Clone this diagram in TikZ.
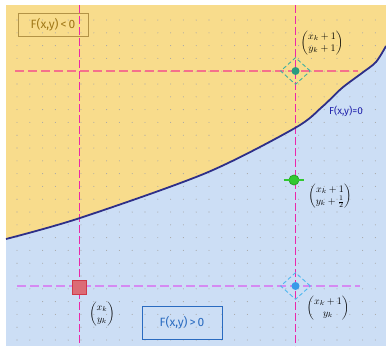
\documentclass[tikz,border=0pt]{standalone}
\usepackage{amsmath}
\usepackage{fontspec}
\setsansfont{Fira Sans}
\usetikzlibrary{shapes.geometric, arrows.meta, positioning, calc}
\definecolor{sand}{HTML}{F8DC8C}
\definecolor{sky}{HTML}{CCDEF5}
\definecolor{dotgray}{HTML}{A8A8A8}
\definecolor{rosedash}{HTML}{F5708C}
\definecolor{lilacdash}{HTML}{D58AF2}
\definecolor{pinkline}{RGB}{235,40,170}
\definecolor{navy}{HTML}{2E2F88}
\definecolor{ochre}{HTML}{A07818}
\definecolor{inkblue}{HTML}{2A6BC0}
\definecolor{pixred}{HTML}{D03A48}
\definecolor{tealdot}{HTML}{2A9A80}
\definecolor{tealdash}{HTML}{40B0A0}
\definecolor{midgreen}{HTML}{30C830}
\definecolor{bluedot}{HTML}{3A9AE8}
\definecolor{bluedash}{HTML}{50B8F0}
\tikzstyle{rowline} = [dash pattern=on 9pt off 4pt, line width=1.2pt]
\tikzstyle{colline} = [dash pattern=on 8pt off 3pt, line width=1.4pt, draw=pinkline]
\tikzstyle{boundary} = [draw=navy, line width=1.8pt]
\tikzstyle{pixel} = [rectangle, minimum size=14pt, inner sep=0pt, draw=pixred,
                     fill=pixred!75, line width=0.8pt]
\tikzstyle{probe} = [diamond, minimum width=30pt, minimum height=27pt, inner sep=0pt,
                     dash pattern=on 4pt off 2.5pt, line width=0.9pt]
\tikzstyle{spot} = [circle, minimum size=8pt, inner sep=0pt]
\tikzstyle{vec} = [font=\normalsize, inner sep=0pt]
\tikzstyle{region} = [rectangle, font=\sffamily\large, inner sep=4pt, line width=0.7pt]

\begin{document}
\begin{tikzpicture}[x=1pt, y=-1pt]
    \useasboundingbox (0,0) rectangle (386,346);

    % Regions
    \fill[sky] (6,5) rectangle (386,346);
    \fill[sand] (6,5) -- plot[smooth] coordinates {(6,239) (80,218) (206,173)
        (295,128) (322,107) (342,88) (362,73) (376,62) (386,46)} -- (386,5) -- cycle;

    % Dot grid
    \foreach \i in {0,...,28}
        \foreach \j in {0,...,25}
            \fill[dotgray] ({17+12.8*\i},{20+12.8*\j}) circle (0.55);

    % Grid lines
    \draw[rowline, draw=rosedash] (15,71) -- (358,71);
    \draw[rowline, draw=lilacdash] (17,286) -- (360,286);
    \draw[colline] (79.5,5) -- (79.5,346);
    \draw[colline] (295.5,5) -- (295.5,346);

    % Boundary
    \draw[boundary] plot[smooth] coordinates {(6,239) (80,218) (206,173)
        (295,128) (322,107) (342,88) (362,73) (376,62) (386,46)};
    \node[font=\sffamily, text=navy!70!blue] (curve) at (346,111) {F(x,y)=0};

    % Pixels
    \node[pixel] (pk) at (79.5,287) {};
    \node[probe, draw=tealdash] (ne) at (295.5,71) {};
    \node[spot, fill=tealdot] (nedot) at (295.5,71) {};
    \node[spot, minimum size=10pt, draw=midgreen!80!black, fill=midgreen, line width=0.8pt] (mid) at (294,180) {};
    \draw[midgreen, line width=1.4pt] ([xshift=-5pt]mid.west) -- ([xshift=5pt]mid.east);
    \node[probe, draw=bluedash] (e) at (295.5,286) {};
    \node[spot, fill=bluedot] (edot) at (295.5,286) {};

    % Labels
    \node[vec] (lne) at (322,43) {$\begin{pmatrix}x_k+1\\ y_k+1\end{pmatrix}$};
    \node[vec] (lmid) at (330,196) {$\begin{pmatrix}x_k+1\\ y_k+\tfrac{1}{2}\end{pmatrix}$};
    \node[vec] (lpk) at (102,314) {$\begin{pmatrix}x_k\\ y_k\end{pmatrix}$};
    \node[vec] (le) at (328,308) {$\begin{pmatrix}x_k+1\\ y_k\end{pmatrix}$};

    % Region boxes
    \node[region, draw=ochre!80, text=ochre, minimum width=70pt, minimum height=23pt] (neg) at (53,25) {F(x,y)\,<\,0};
    \node[region, draw=inkblue, text=inkblue, minimum width=80pt, minimum height=33pt] (pos) at (182,323) {F(x,y)\,>\,0};
\end{tikzpicture}
\end{document}
